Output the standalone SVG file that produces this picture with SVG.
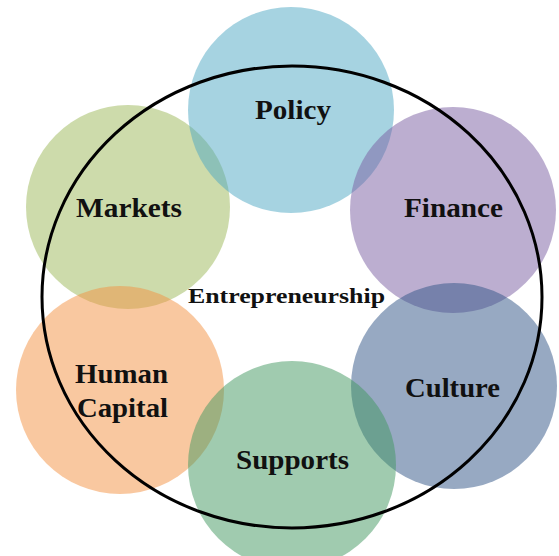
<svg xmlns="http://www.w3.org/2000/svg" width="559" height="556" viewBox="0 0 559 556">
<style>
.c{fill-opacity:0.5;stroke:none}
.t{font-family:"Liberation Serif","Times New Roman",serif;font-weight:bold;font-size:27px;fill:#111}
.e{font-family:"Liberation Serif","Times New Roman",serif;font-weight:bold;font-size:22px;fill:#111}
</style>
<rect width="559" height="556" fill="#ffffff"/>
<g id="markets"><circle class="c" cx="128" cy="207" r="102" fill="#9bb757"/></g>
<g id="policy"><circle class="c" cx="291" cy="110" r="103" fill="#4da7c3"/></g>
<g id="finance"><circle class="c" cx="453" cy="210" r="103" fill="#795da1"/></g>
<g id="culture"><circle class="c" cx="454" cy="386" r="103" fill="#2f5385"/></g>
<g id="human-capital"><circle class="c" cx="120" cy="390" r="104" fill="#f39141"/></g>
<g id="supports"><circle class="c" cx="292" cy="465" r="104" fill="#41975f"/></g>
<g id="connectors">
<ellipse id="entrepreneurship-ring" cx="292" cy="297" rx="250" ry="231" fill="none" stroke="#000" stroke-width="3"/>
</g>
<g id="labels">
<text class="t" x="255" y="119" textLength="76" lengthAdjust="spacingAndGlyphs">Policy</text>
<text class="t" x="76" y="217" textLength="106" lengthAdjust="spacingAndGlyphs">Markets</text>
<text class="t" x="404" y="217" textLength="99" lengthAdjust="spacingAndGlyphs">Finance</text>
<text class="e" x="188" y="303" textLength="197" lengthAdjust="spacingAndGlyphs">Entrepreneurship</text>
<text class="t" x="75" y="383" textLength="93" lengthAdjust="spacingAndGlyphs">Human</text>
<text class="t" x="77" y="417" textLength="91" lengthAdjust="spacingAndGlyphs">Capital</text>
<text class="t" x="405" y="397" textLength="95" lengthAdjust="spacingAndGlyphs">Culture</text>
<text class="t" x="236" y="469" textLength="113" lengthAdjust="spacingAndGlyphs">Supports</text>
</g>
</svg>
